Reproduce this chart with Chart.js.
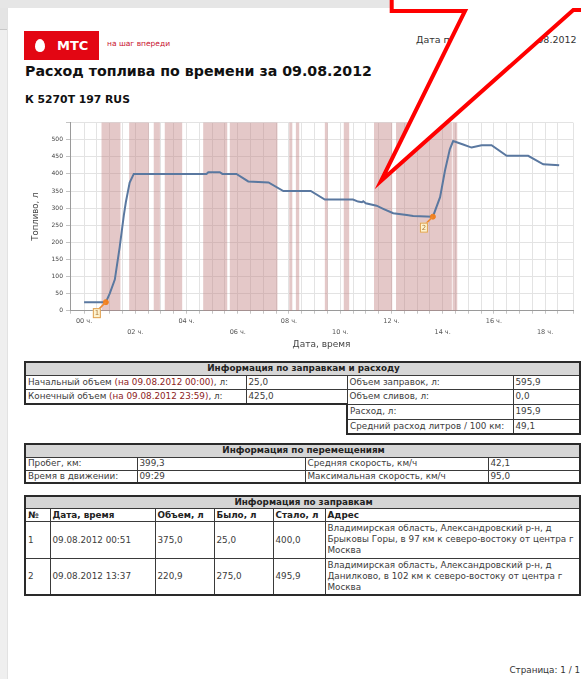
<!DOCTYPE html>
<html lang="ru">
<head>
<meta charset="utf-8">
<title>Расход топлива по времени</title>
<script src="https://cdn.jsdelivr.net/npm/chart.js@4.4.1/dist/chart.umd.min.js"></script>
<style>
html, body { margin: 0; padding: 0; }
body { width: 581px; height: 679px; overflow: hidden; position: relative; background: #fff;
       font-family: 'DejaVu Sans', Verdana, sans-serif; color: #3c3c3c; }
.abs { position: absolute; white-space: nowrap; }
#topbar { left: 0; top: 0; width: 581px; height: 8px; background: #e6e6e6; }
#side { left: 0; top: 8px; width: 7px; height: 671px; background: #efefef; border-right: 1px solid #e2e2e2; }
#sideTool { left: 0; top: 8px; width: 7px; height: 21px; background: #e4e4e4; border-bottom: 1px solid #c8c8c8; }
#logo { left: 24px; top: 31px; width: 75px; height: 29px; background: #e30613; }
#egg { left: 35px; top: 39px; width: 10px; height: 13px; background: #fff; border-radius: 50% 50% 50% 50% / 60% 60% 40% 40%; }
#mts { left: 57px; top: 38px; font-size: 13px; font-weight: bold; color: #fff; line-height: 16px; }
#slogan { left: 107px; top: 39px; font-size: 7.5px; color: #c8102e; line-height: 10px; }
#printed { left: 416px; top: 34px; font-size: 9.5px; color: #333; line-height: 12px; }
#title { left: 25px; top: 63px; font-size: 14.2px; font-weight: bold; color: #111; line-height: 17px; }
#plate { left: 25px; top: 93px; font-size: 10.8px; font-weight: bold; color: #111; line-height: 13px; }
#grafica { position: absolute; left: 20px; top: 116px; }
#page { right: 1px; top: 664px; font-size: 8.8px; color: #333; line-height: 12px; }
table { position: absolute; border-collapse: collapse; table-layout: fixed; font-size: 8.8px; color: #3c3c3c; }
td { border: 1px solid #3a3a3a; padding: 0 0 0 2px; white-space: nowrap; overflow: hidden; vertical-align: middle; line-height: 11px; }
td.h { background: #d6d6d6; font-weight: bold; text-align: center; color: #222; }
td.b { font-weight: bold; color: #222; }
td.e { border: none; }
td.top { vertical-align: top; padding-top: 1px; }
.red { color: #8e2222; }
#t1 { left: 24px; top: 361px; width: 555px; }
#t2 { left: 24px; top: 443px; width: 555px; border: 2px solid #2a2a2a; }
#t3 { left: 24px; top: 495px; width: 555px; border: 2px solid #2a2a2a; }
#arrow { position: absolute; left: 0; top: 0; }
</style>
</head>
<body>
<div id="topbar" class="abs"></div>
<div id="side" class="abs"></div>
<div id="sideTool" class="abs"></div>

<div id="logo" class="abs"></div>
<div id="egg" class="abs"></div>
<div id="mts" class="abs">МТС</div>
<div id="slogan" class="abs">на шаг впереди</div>
<div id="printed" class="abs">Дата печати отчета: 09.08.2012</div>
<div id="title" class="abs">Расход топлива по времени за 09.08.2012</div>
<div id="plate" class="abs">К 5270Т 197 RUS</div>

<canvas id="grafica" width="560" height="240"></canvas>

<table id="t1">
  <colgroup><col style="width:221px"><col style="width:101px"><col style="width:166px"><col style="width:67px"></colgroup>
  <tr style="height:13px"><td class="h" colspan="4" style="border-top:2px solid #2a2a2a;border-left:2px solid #2a2a2a;border-right:2px solid #2a2a2a">Информация по заправкам и расходу</td></tr>
  <tr style="height:14px"><td style="border-left:2px solid #2a2a2a">Начальный объем <span class="red">(на 09.08.2012 00:00)</span>, л:</td><td>25,0</td><td>Объем заправок, л:</td><td style="border-right:2px solid #2a2a2a">595,9</td></tr>
  <tr style="height:15px"><td style="border-left:2px solid #2a2a2a;border-bottom:2px solid #2a2a2a">Конечный объем <span class="red">(на 09.08.2012 23:59)</span>, л:</td><td style="border-bottom:2px solid #2a2a2a">425,0</td><td>Объем сливов, л:</td><td style="border-right:2px solid #2a2a2a">0,0</td></tr>
  <tr style="height:15px"><td class="e"></td><td class="e"></td><td style="border-left:2px solid #2a2a2a">Расход, л:</td><td style="border-right:2px solid #2a2a2a">195,9</td></tr>
  <tr style="height:15px"><td class="e"></td><td class="e"></td><td style="border-left:2px solid #2a2a2a;border-bottom:2px solid #2a2a2a">Средний расход литров / 100 км:</td><td style="border-right:2px solid #2a2a2a;border-bottom:2px solid #2a2a2a">49,1</td></tr>
</table>

<table id="t2">
  <colgroup><col style="width:112px"><col style="width:168px"><col style="width:183px"><col style="width:92px"></colgroup>
  <tr style="height:13px"><td class="h" colspan="4">Информация по перемещениям</td></tr>
  <tr style="height:13px"><td>Пробег, км:</td><td>399,3</td><td>Средняя скорость, км/ч</td><td>42,1</td></tr>
  <tr style="height:13px"><td>Время в движении:</td><td>09:29</td><td>Максимальная скорость, км/ч</td><td>95,0</td></tr>
</table>

<table id="t3">
  <colgroup><col style="width:25px"><col style="width:105px"><col style="width:59px"><col style="width:59px"><col style="width:52px"><col style="width:255px"></colgroup>
  <tr style="height:12px"><td class="h" colspan="6">Информация по заправкам</td></tr>
  <tr style="height:13px"><td class="b">№</td><td class="b">Дата, время</td><td class="b">Объем, л</td><td class="b">Было, л</td><td class="b">Стало, л</td><td class="b">Адрес</td></tr>
  <tr style="height:37px"><td>1</td><td>09.08.2012 00:51</td><td>375,0</td><td>25,0</td><td>400,0</td><td class="top">Владимирская область, Александровский р-н, д<br>Брыковы Горы, в 97 км к северо-востоку от центра г<br>Москва</td></tr>
  <tr style="height:36px"><td>2</td><td>09.08.2012 13:37</td><td>220,9</td><td>275,0</td><td>495,9</td><td class="top">Владимирская область, Александровский р-н, д<br>Данилково, в 102 км к северо-востоку от центра г<br>Москва</td></tr>
</table>

<div id="page" class="abs">Страница: 1 / 1</div>

<svg id="arrow" width="581" height="679">
  <polygon points="391.7,-10 391.7,11 465,11 381,181 573.3,10 600,10 600,-10"
           fill="#fff" stroke="#ff0000" stroke-width="4" stroke-linejoin="miter" stroke-miterlimit="12"/>
</svg>

<script>
// уровень топлива, часы от начала суток
const hours = [0, 0.85, 1.0, 1.2, 1.39, 1.55, 1.63, 1.78, 1.94, 4.78, 4.85, 5.3, 5.4, 5.95, 6.41, 7.2, 7.78, 8.85,
               9.4, 10.5, 10.7, 10.85, 10.9, 11.0, 11.42, 11.68, 12.07, 12.6, 12.85, 13.62, 13.9, 14.09, 14.28,
               14.41, 14.8, 15.13, 15.52, 15.91, 16.5, 17.34, 17.93, 18.55];
const fuel = [25, 25, 50, 91, 186, 278, 317, 375, 400, 400, 405, 405, 400, 400, 378, 375, 350, 350,
              325, 325, 319, 317, 320, 314, 307, 298, 285, 280, 277, 275, 332, 409, 472,
              496, 486, 477, 484, 484, 453, 453, 428, 425];

// заправки
const refuelTime = [0.85, 13.62];
const refuelLevel = [25, 275];
const refuelNo = ['1', '2'];

// закрашенные интервалы
const bandFrom = [0.68, 1.76, 2.72, 3.15, 4.65, 5.69, 8.01, 8.27, 9.40, 10.14, 11.32, 12.18, 14.39];
const bandTo   = [1.42, 2.53, 2.96, 3.83, 5.59, 7.55, 8.13, 8.40, 9.51, 10.35, 12.03, 14.36, 14.57];

// подписи оси времени
const tickHours = [0, 2, 4, 6, 8, 10, 12, 14, 16, 18];
const tickNames = ['00 ч.', '02 ч.', '04 ч.', '06 ч.', '08 ч.', '10 ч.', '12 ч.', '14 ч.', '16 ч.', '18 ч.'];

const fontFam = "'DejaVu Sans', Verdana, sans-serif";

const bands = {
    id: 'bands',
    beforeDatasetsDraw(chart) {
        const {ctx, chartArea, scales} = chart;
        ctx.save();
        ctx.fillStyle = 'rgba(190, 125, 125, 0.42)';
        for (let i = 0; i < bandFrom.length; i++) {
            const x1 = scales.x.getPixelForValue(bandFrom[i]);
            const x2 = scales.x.getPixelForValue(bandTo[i]);
            ctx.fillRect(x1, chartArea.top, x2 - x1, chartArea.bottom - chartArea.top);
        }
        ctx.restore();
    }
};

// номерки у точек заправки
const refuelMarks = {
    id: 'refuelMarks',
    afterDatasetsDraw(chart) {
        const {ctx, scales} = chart;
        ctx.save();
        for (let i = 0; i < refuelTime.length; i++) {
            const px = scales.x.getPixelForValue(refuelTime[i]);
            const py = scales.y.getPixelForValue(refuelLevel[i]);
            const bx = px - 9, by = py + 11;
            ctx.strokeStyle = '#f08a30';
            ctx.lineWidth = 1.5;
            ctx.beginPath();
            ctx.moveTo(px, py);
            ctx.lineTo(bx + 2, by - 4);
            ctx.stroke();
            ctx.fillStyle = '#fdf3cf';
            ctx.fillRect(bx - 4, by - 5, 8, 10);
            ctx.strokeStyle = '#e0a050';
            ctx.lineWidth = 1;
            ctx.strokeRect(bx - 4 + 0.5, by - 5 + 0.5, 7, 9);
            ctx.fillStyle = '#b07a3a';
            ctx.font = '7px ' + fontFam;
            ctx.textAlign = 'center';
            ctx.textBaseline = 'middle';
            ctx.fillText(refuelNo[i], bx, by + 0.5);
        }
        ctx.restore();
    }
};

new Chart(document.getElementById('grafica'), {
    type: 'line',
    data: {
        datasets: [
            {
                data: hours.map((h, i) => ({x: h, y: fuel[i]})),
                borderColor: '#5a78a0',
                borderWidth: 2,
                pointRadius: 0,
                tension: 0,
                order: 2
            },
            {
                type: 'scatter',
                data: refuelTime.map((t, i) => ({x: t, y: refuelLevel[i]})),
                pointRadius: 2.5,
                backgroundColor: '#f08020',
                borderColor: '#f08020',
                order: 1
            }
        ]
    },
    options: {
        responsive: false,
        animation: false,
        devicePixelRatio: 1,
        layout: { padding: { top: 6, right: 7, left: 0, bottom: 0 } },
        plugins: { legend: { display: false }, tooltip: { enabled: false } },
        scales: {
            x: {
                type: 'linear',
                min: -0.55,
                max: 19.09,
                grid: { color: '#e3e3e3', tickLength: 3, tickColor: '#c4c4c4' },
                border: { color: '#9a9a9a' },
                ticks: {
                    stepSize: 0.5, autoSkip: false, maxRotation: 0, minRotation: 0, padding: 2,
                    color: '#555', font: { family: fontFam, size: 6.5, lineHeight: 1.7 },
                    callback: function(v) {
                        const i = tickHours.indexOf(v);
                        if (i < 0) return '';
                        return i % 2 === 0 ? tickNames[i] : ['', tickNames[i]];
                    }
                },
                title: { display: true, text: 'Дата, время', color: '#444',
                         font: { family: fontFam, size: 9 }, padding: { top: 0, bottom: 6 } },
                afterFit: function(s) { s.height = 45.3; }
            },
            y: {
                min: 0,
                max: 550,
                grid: { color: '#e3e3e3', tickLength: 4, tickColor: '#c4c4c4' },
                border: { color: '#9a9a9a' },
                ticks: {
                    stepSize: 50, padding: 3, color: '#444',
                    font: { family: fontFam, size: 6 },
                    callback: function(v) { return v === 550 ? '' : String(v); }
                },
                title: { display: true, text: 'Топливо, л', color: '#444',
                         font: { family: fontFam, size: 8.5 }, padding: { top: 11, bottom: 0 } },
                afterFit: function(s) { s.width = 50; }
            }
        }
    },
    plugins: [bands, refuelMarks]
});
</script>
</body>
</html>
